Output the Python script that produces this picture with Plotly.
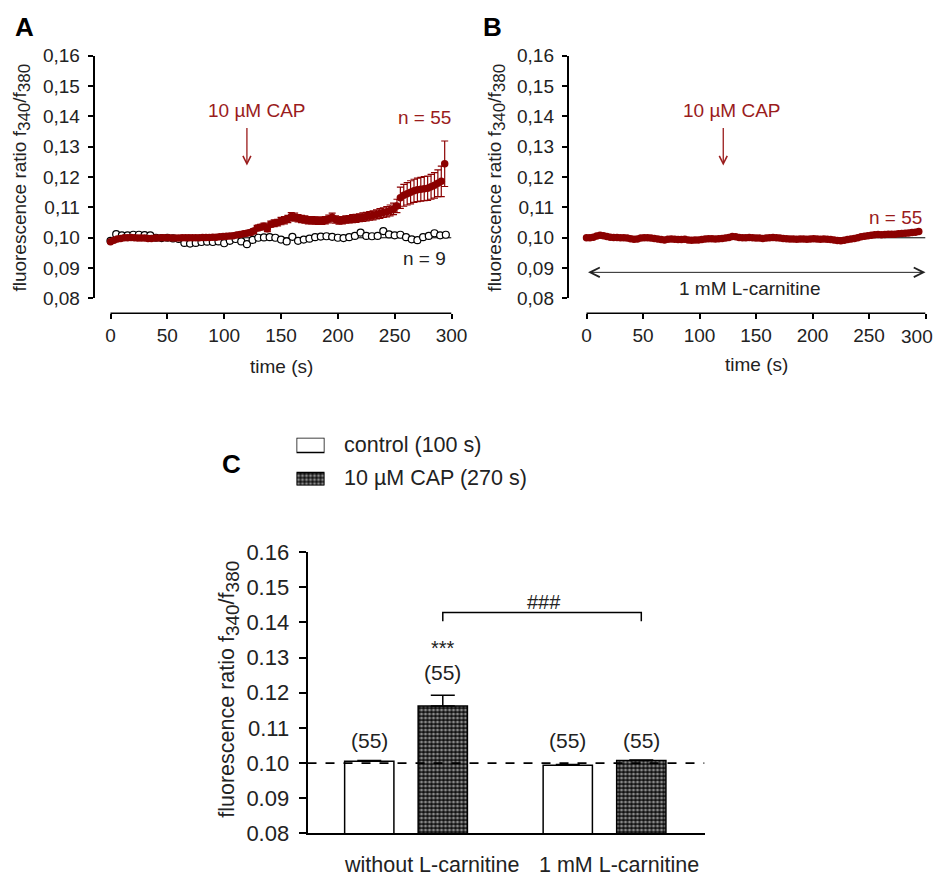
import plotly.graph_objects as go

W, H = 943, 878
# map a target screen position (in pixels) to paper coordinates
def X(s): return ((s - 8.5) / 0.983) / W
def Y(s): return 1 - ((s - 17) / 0.977) / H

FONT = "Liberation Sans, Arial, sans-serif"
RED = "#8b0000"
TRED = "#9a1c1c"

# ---------------- data ----------------
t_red = list(range(0, 297, 3))
a_red = [0.0987, 0.0992, 0.0996, 0.0998, 0.1000, 0.1000, 0.1001, 0.1000, 0.0999, 0.0999,
         0.0999, 0.0998, 0.0998, 0.0999, 0.0999, 0.1000, 0.1000, 0.1000, 0.0999, 0.0999,
         0.0999, 0.1000, 0.1000, 0.1000, 0.1000, 0.1000, 0.1000, 0.1001, 0.1001, 0.1001,
         0.1002, 0.1002, 0.1003, 0.1004, 0.1005, 0.1006, 0.1007, 0.1009, 0.1011, 0.1013,
         0.1015, 0.1017, 0.1022, 0.1032, 0.1035, 0.1038, 0.1030, 0.1045, 0.1048, 0.1050,
         0.1055, 0.1058, 0.1062, 0.1070, 0.1068, 0.1064, 0.1062, 0.1060, 0.1058, 0.1058,
         0.1057, 0.1056, 0.1056, 0.1058, 0.1062, 0.1068, 0.1060, 0.1057, 0.1058, 0.1060,
         0.1061, 0.1063, 0.1064, 0.1066, 0.1068, 0.1070, 0.1072, 0.1074, 0.1077, 0.1080,
         0.1083, 0.1086, 0.1090, 0.1095, 0.1105, 0.1132, 0.1140, 0.1145, 0.1150, 0.1155,
         0.1158, 0.1160, 0.1162, 0.1163, 0.1168, 0.1173, 0.1180, 0.1186, 0.1244]
a_red_err = [0.0004, 0.0004, 0.0004, 0.0004, 0.0004, 0.0004, 0.0004, 0.0004, 0.0004, 0.0004,
             0.0004, 0.0004, 0.0004, 0.0004, 0.0004, 0.0004, 0.0004, 0.0004, 0.0004, 0.0004,
             0.0004, 0.0004, 0.0004, 0.0004, 0.0004, 0.0004, 0.0004, 0.0004, 0.0004, 0.0004,
             0.0005, 0.0005, 0.0005, 0.0005, 0.0005, 0.0006, 0.0006, 0.0006, 0.0007, 0.0007,
             0.0007, 0.0008, 0.0008, 0.0009, 0.0009, 0.0010, 0.0010, 0.0010, 0.0011, 0.0011,
             0.0012, 0.0012, 0.0012, 0.0013, 0.0013, 0.0012, 0.0012, 0.0012, 0.0012, 0.0012,
             0.0012, 0.0012, 0.0012, 0.0012, 0.0013, 0.0013, 0.0012, 0.0012, 0.0012, 0.0012,
             0.0012, 0.0013, 0.0013, 0.0013, 0.0014, 0.0014, 0.0014, 0.0015, 0.0015, 0.0016,
             0.0016, 0.0017, 0.0018, 0.0019, 0.0022, 0.0035, 0.0036, 0.0037, 0.0038, 0.0038,
             0.0039, 0.0039, 0.0040, 0.0040, 0.0041, 0.0042, 0.0044, 0.0050, 0.0075]

t_ctrl = list(range(0, 300, 5))
a_ctrl = [0.0990, 0.1012, 0.1008, 0.1008, 0.1010, 0.1010, 0.1009, 0.1008, 0.1000, 0.0999,
          0.1000, 0.0998, 0.0996, 0.0983, 0.0981, 0.0983, 0.0986, 0.0987, 0.0986, 0.0988,
          0.0982, 0.0990, 0.0996, 0.0988, 0.0979, 0.0993, 0.1000, 0.1001, 0.1002, 0.1000,
          0.0994, 0.0988, 0.1003, 0.0990, 0.0994, 0.0997, 0.1002, 0.1004, 0.1005, 0.1003,
          0.1000, 0.0999, 0.1002, 0.1006, 0.1017, 0.1006, 0.1005, 0.1006, 0.1022, 0.1011,
          0.1008, 0.1010, 0.1002, 0.0995, 0.0992, 0.1002, 0.1006, 0.1015, 0.1008, 0.1010]

b_red = [0.1000, 0.1000, 0.1002, 0.1006, 0.1008, 0.1007, 0.1004, 0.1002, 0.1001, 0.1001,
         0.1000, 0.1000, 0.0999, 0.0997, 0.0995, 0.0996, 0.0999, 0.1000, 0.1000, 0.0999,
         0.0998, 0.0996, 0.0994, 0.0993, 0.0995, 0.0996, 0.0995, 0.0994, 0.0994, 0.0995,
         0.0993, 0.0992, 0.0993, 0.0993, 0.0994, 0.0996, 0.0997, 0.0997, 0.0996, 0.0997,
         0.0998, 0.0999, 0.1001, 0.1004, 0.1003, 0.1001, 0.1000, 0.1000, 0.1001, 0.1000,
         0.0999, 0.0999, 0.0998, 0.0999, 0.1000, 0.1001, 0.1000, 0.0999, 0.0998, 0.0997,
         0.0996, 0.0996, 0.0995, 0.0996, 0.0996, 0.0995, 0.0996, 0.0997, 0.0996, 0.0995,
         0.0996, 0.0995, 0.0994, 0.0993, 0.0991, 0.0990, 0.0992, 0.0994, 0.0996, 0.0998,
         0.1000, 0.1003, 0.1005, 0.1007, 0.1008, 0.1010, 0.1011, 0.1010, 0.1011, 0.1012,
         0.1012, 0.1012, 0.1013, 0.1014, 0.1015, 0.1016, 0.1017, 0.1018, 0.1021]

c_groups = ["without L-carnitine", "1 mM L-carnitine"]
c_control = [0.1005, 0.0994]
c_control_err = [0.0002, 0.0002]
c_cap = [0.1162, 0.1007]
c_cap_err = [0.0031, 0.0002]
c_n = ["(55)", "(55)", "(55)", "(55)"]

ab_ticks = [0.08, 0.09, 0.10, 0.11, 0.12, 0.13, 0.14, 0.15, 0.16]
ab_ticktext = ["0,08", "0,09", "0,10", "0,11", "0,12", "0,13", "0,14", "0,15", "0,16"]
c_ticktext = ["0.08", "0.09", "0.10", "0.11", "0.12", "0.13", "0.14", "0.15", "0.16"]
time_ticks = [0, 50, 100, 150, 200, 250, 300]
time_ticktext = ["0", "50", "100", "150", "200", "250", "300"]
time_ticktext_b = ["0", "50", "100", "150", "200", "250", ""]  # last label placed by hand (page edge)

x_ctrl_pos = [0, 2.7]
x_cap_pos = [1, 3.7]

fig = go.Figure()

fig.add_trace(go.Scatter(x=t_ctrl, y=a_ctrl, mode="markers", xaxis="x", yaxis="y",
                         marker=dict(symbol="circle", size=7, color="white",
                                     line=dict(color="black", width=1.2)),
                         cliponaxis=False, showlegend=False))
fig.add_trace(go.Scatter(x=t_red, y=a_red, mode="markers", xaxis="x", yaxis="y",
                         marker=dict(symbol="circle", size=7.5, color=RED),
                         error_y=dict(type="data", array=a_red_err, color=RED,
                                      thickness=1.2, width=3.5),
                         cliponaxis=False, showlegend=False))
fig.add_trace(go.Scatter(x=t_red, y=b_red, mode="markers", xaxis="x2", yaxis="y2",
                         marker=dict(symbol="circle", size=7.5, color=RED),
                         cliponaxis=False, showlegend=False))

fig.add_trace(go.Bar(x=x_ctrl_pos, y=c_control, width=0.67, xaxis="x3", yaxis="y3",
                     marker=dict(color="white", line=dict(color="black", width=1.5)),
                     error_y=dict(type="data", array=c_control_err, arrayminus=[0, 0],
                                  symmetric=False, color="black", thickness=1.5, width=12),
                     showlegend=False))
pat = dict(shape=".", bgcolor="#111111", fgcolor="white", size=4, solidity=0.45)
fig.add_trace(go.Bar(x=x_cap_pos, y=c_cap, width=0.67, xaxis="x3", yaxis="y3",
                     marker=dict(color="#111111", pattern=pat,
                                 line=dict(color="black", width=1.5)),
                     error_y=dict(type="data", array=c_cap_err, arrayminus=[0, 0],
                                  symmetric=False, color="black", thickness=1.5, width=12),
                     showlegend=False))
fig.add_trace(go.Bar(x=[0.5], y=[15], base=[33], width=[1], xaxis="x4", yaxis="y4",
                     marker=dict(color="white", line=dict(color="black", width=1.5)),
                     showlegend=False))
fig.add_trace(go.Bar(x=[0.5], y=[13], base=[0], width=[1], xaxis="x4", yaxis="y4",
                     marker=dict(color="#111111", pattern=pat, line=dict(color="black", width=1.5)),
                     showlegend=False))

tickfont_ab = dict(family=FONT, size=19, color="#222")
ax_common = dict(showgrid=False, zeroline=False, ticks="outside", ticklen=5,
                 tickwidth=1.5, tickcolor="black")

fig.update_layout(
    width=W, height=H, margin=dict(l=0, r=0, t=0, b=0),
    paper_bgcolor="white", plot_bgcolor="white",
    font=dict(family=FONT, color="#222"),
    barmode="overlay",
    xaxis=dict(domain=[X(95), X(452)], range=[-14.08, 300], anchor="free",
               position=Y(312), tickvals=time_ticks, ticktext=time_ticktext,
               showline=False, tickfont=tickfont_ab, **ax_common),
    yaxis=dict(domain=[Y(297), Y(53)], range=[0.08, 0.16], anchor="x",
               tickvals=ab_ticks, ticktext=ab_ticktext, showline=True,
               linecolor="black", linewidth=1.5, tickfont=tickfont_ab,
               ticklabelstandoff=4, **ax_common),
    xaxis2=dict(domain=[X(569), X(926)], range=[-15.93, 300], anchor="free",
                position=Y(312), tickvals=time_ticks, ticktext=time_ticktext_b,
                showline=False, tickfont=tickfont_ab, **ax_common),
    yaxis2=dict(domain=[Y(297), Y(53)], range=[0.08, 0.16], anchor="x2",
                tickvals=ab_ticks, ticktext=ab_ticktext, showline=True,
                linecolor="black", linewidth=1.5, tickfont=tickfont_ab,
                ticklabelstandoff=4, **ax_common),
    xaxis3=dict(domain=[X(308), X(705)], range=[-0.84, 4.56], anchor="y3",
                showline=True, linecolor="black", linewidth=1.8, showgrid=False,
                zeroline=False, ticks="", showticklabels=False),
    yaxis3=dict(domain=[Y(835), Y(552)], range=[0.08, 0.16], anchor="x3",
                tickvals=ab_ticks, ticktext=c_ticktext, showline=True,
                linecolor="black", linewidth=1.8, showgrid=False, zeroline=False,
                ticks="outside", ticklen=7, tickwidth=1.8, tickcolor="black",
                ticklabelstandoff=5,
                tickfont=dict(family=FONT, size=22, color="#222")),
    xaxis4=dict(domain=[X(297), X(325)], range=[0, 1], anchor="y4", visible=False),
    yaxis4=dict(domain=[Y(485), Y(437)], range=[0, 48], anchor="x4", visible=False),
)

shapes = []
for xr in ["x", "x2"]:
    shapes.append(dict(type="line", xref=xr, yref="paper", x0=0, x1=300,
                       y0=Y(312), y1=Y(312), line=dict(color="black", width=1.5)))
shapes.append(dict(type="line", xref="x", yref="y", x0=0, x1=300, y0=0.10, y1=0.10,
                   line=dict(color="black", width=1), layer="below"))
shapes.append(dict(type="line", xref="x2", yref="y2", x0=0, x1=300, y0=0.10, y1=0.10,
                   line=dict(color="black", width=1), layer="below"))
shapes.append(dict(type="line", xref="x3", yref="y3", x0=-0.84, x1=4.56, y0=0.10, y1=0.10,
                   line=dict(color="black", width=1.8, dash="dash")))
shapes.append(dict(type="path", xref="x3", yref="y3",
                   path="M 1,0.1403 L 1,0.1428 L 3.7,0.1428 L 3.7,0.1403",
                   line=dict(color="black", width=1.5)))
fig.update_layout(shapes=shapes)

def txt(x, y, s, size=15, color="#222", xanchor="center", xref="paper", yref="paper", **kw):
    return dict(x=x, y=y, text=s, xref=xref, yref=yref, showarrow=False,
                xanchor=xanchor, yanchor="middle",
                font=dict(family=FONT, size=size, color=color), **kw)

def ytitle(sub_px):
    return ("fluorescence ratio f<sub><span style='font-size:%dpx'>340</span></sub>"
            "/f<sub><span style='font-size:%dpx'>380</span></sub>" % (sub_px, sub_px))

ann = [
    txt(X(25), Y(24), "<b>A</b>", size=26, color="black"),
    txt(X(493), Y(24), "<b>B</b>", size=26, color="black"),
    txt(X(232), Y(463), "<b>C</b>", size=26, color="black"),
    txt(X(22), Y(176), ytitle(17), size=19, textangle=-90),
    txt(X(497), Y(176), ytitle(17), size=19, textangle=-90),
    txt(X(230), Y(690), ytitle(19), size=21.5, textangle=-90),
    txt(X(282), Y(365), "time (s)", size=19),
    txt(X(757), Y(363), "time (s)", size=19),
    txt(0.9995, Y(335), time_ticktext[-1], size=19, xanchor="right"),
    txt(X(257), Y(108), "10 µM CAP", size=19, color=TRED),
    txt(X(732), Y(108), "10 µM CAP", size=19, color=TRED),
    txt(X(453), Y(115), "n = 55", size=19, color=TRED, xanchor="right"),
    txt(X(448), Y(257), "n = 9", size=19, color="#222", xanchor="right"),
    txt(X(924), Y(216), "n = 55", size=19, color=TRED, xanchor="right"),
    txt(X(750), Y(287), "1 mM L-carnitine", size=19),
    txt(X(432), Y(867), c_groups[0], size=21.5),
    txt(X(619), Y(867), c_groups[1], size=21.5),
    txt(X(342), Y(444), "control (100 s)", size=21.5, xanchor="left"),
    txt(X(342), Y(478), "10 µM CAP (270 s)", size=21.5, xanchor="left"),
    txt(x_ctrl_pos[0], 0.1063, c_n[0], size=21, xref="x3", yref="y3"),
    txt(x_cap_pos[0], 0.1258, c_n[1], size=21, xref="x3", yref="y3"),
    txt(x_ctrl_pos[1], 0.1063, c_n[2], size=21, xref="x3", yref="y3"),
    txt(x_cap_pos[1], 0.1063, c_n[3], size=21, xref="x3", yref="y3"),
    txt(x_cap_pos[0], 0.1328, "***", size=20, xref="x3", yref="y3"),
    txt(2.38, 0.1459, "###", size=20, xref="x3", yref="y3"),
    dict(x=120, y=0.1238, ax=120, ay=0.1367, xref="x", yref="y", axref="x", ayref="y",
         text="", showarrow=True, arrowhead=5, arrowsize=1.2, arrowwidth=1.3, arrowcolor=TRED),
    dict(x=121, y=0.1238, ax=121, ay=0.1367, xref="x2", yref="y2", axref="x2", ayref="y2",
         text="", showarrow=True, arrowhead=5, arrowsize=1.2, arrowwidth=1.3, arrowcolor=TRED),
    dict(x=300, y=0.0886, ax=0, ay=0.0886, xref="x2", yref="y2", axref="x2", ayref="y2",
         text="", showarrow=True, arrowhead=5, startarrowhead=5, arrowside="end+start",
         arrowsize=1.9, startarrowsize=1.9, arrowwidth=1, arrowcolor="#222"),
]
fig.update_layout(annotations=ann)

fig.write_html("out.html")
